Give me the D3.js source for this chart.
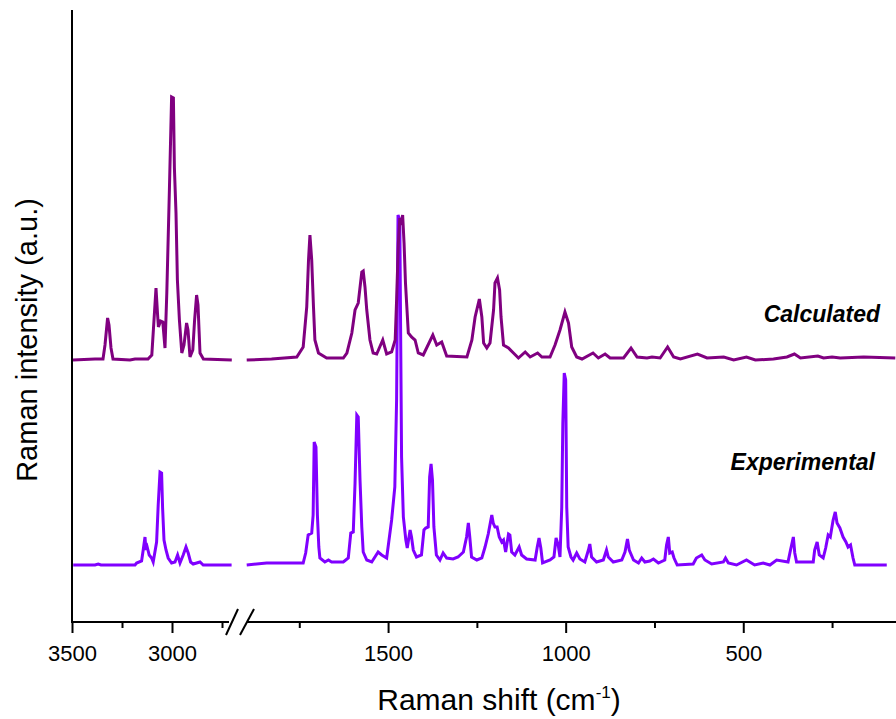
<!DOCTYPE html>
<html>
<head>
<meta charset="utf-8">
<script src="https://cdn.jsdelivr.net/npm/d3@7"></script>
<style>
  body { margin: 0; background: #fff; }
  svg { display: block; font-family: Arial, "Liberation Sans", sans-serif; }
</style>
</head>
<body>
<div id="chart"></div>
<script>
// Raman spectra, [wavenumber (cm-1), intensity (a.u.)]
var calcHigh = [
  [3495,0],[3385,2],[3345,2],[3335,30],[3322,84],[3315,70],[3305,24],[3295,2],[3210,0],[3185,2],
  [3120,2],[3101,10],[3090,80],[3080,144],[3072,90],[3068,66],[3057,78],[3046,76],[3035,24],[3026,134],
  [3013,340],[3002,526],[2993,524],[2988,384],[2980,294],[2973,160],[2963,80],[2951,14],[2940,30],[2927,74],
  [2920,60],[2910,6],[2896,20],[2887,80],[2877,130],[2870,110],[2860,14],[2843,2],[2701,0]
];
var calcLow = [
  [1898,0],[1828,2],[1757,6],[1739,26],[1729,106],[1724,200],[1720,250],[1715,200],[1710,106],[1706,40],
  [1696,14],[1673,4],[1626,4],[1616,14],[1602,54],[1593,100],[1584,114],[1574,176],[1570,178],[1565,146],
  [1560,100],[1551,40],[1542,14],[1532,12],[1515,40],[1504,12],[1490,16],[1480,40],[1476,120],[1471,234],
  [1467,284],[1462,276],[1459,290],[1455,234],[1451,154],[1443,54],[1434,46],[1424,40],[1415,14],[1401,10],
  [1374,50],[1363,30],[1349,36],[1335,8],[1278,6],[1264,40],[1255,86],[1243,122],[1236,86],[1231,34],
  [1222,24],[1213,34],[1203,100],[1199,154],[1192,164],[1186,140],[1182,86],[1175,30],[1161,24],[1147,14],
  [1133,4],[1114,16],[1100,6],[1079,14],[1067,6],[1044,6],[1030,30],[1016,60],[1002,96],[992,74],
  [983,26],[969,6],[954,2],[923,14],[908,4],[889,12],[875,4],[837,4],[816,24],[799,6],
  [771,4],[757,6],[734,4],[713,26],[696,6],[677,2],[629,12],[602,4],[555,6],[527,0],
  [491,6],[466,0],[415,2],[377,6],[356,12],[339,4],[290,8],[274,4],[250,6],[227,4],
  [161,6],[72,4]
];
var expHigh = [
  [3494,0],[3385,0],[3369,2],[3355,0],[3185,0],[3177,4],[3152,8],[3144,30],[3135,56],[3130,30],
  [3124,36],[3114,20],[3102,14],[3094,6],[3077,46],[3069,120],[3060,186],[3052,184],[3047,114],[3040,50],
  [3030,30],[3019,14],[3002,4],[2985,6],[2972,20],[2960,4],[2944,20],[2930,36],[2919,24],[2907,6],
  [2894,2],[2860,6],[2844,0],[2702,0]
];
var expLow = [
  [1898,0],[1842,4],[1739,4],[1732,24],[1725,60],[1715,64],[1711,100],[1708,246],[1703,236],[1699,100],
  [1695,36],[1692,14],[1678,6],[1668,10],[1659,6],[1626,6],[1612,14],[1605,64],[1598,66],[1593,164],
  [1588,300],[1584,296],[1579,170],[1574,76],[1570,26],[1560,10],[1546,6],[1528,26],[1518,20],[1504,14],
  [1490,90],[1481,156],[1476,330],[1472,700],[1467,690],[1462,216],[1457,96],[1450,50],[1446,34],[1438,70],
  [1434,56],[1429,30],[1420,16],[1406,20],[1399,70],[1394,74],[1387,76],[1383,176],[1379,202],[1375,170],
  [1371,76],[1364,20],[1354,10],[1345,24],[1335,14],[1317,12],[1303,16],[1288,26],[1279,56],[1274,84],
  [1270,56],[1265,16],[1250,10],[1236,14],[1227,36],[1218,62],[1208,100],[1204,84],[1199,76],[1193,76],
  [1187,56],[1180,46],[1175,50],[1169,26],[1161,62],[1157,60],[1152,26],[1143,20],[1131,36],[1124,20],
  [1110,12],[1086,10],[1080,36],[1075,54],[1070,34],[1065,4],[1044,10],[1033,16],[1027,54],[1021,40],
  [1016,16],[1011,116],[1008,284],[1004,384],[1000,370],[997,116],[993,36],[985,16],[979,10],[969,24],
  [960,12],[946,6],[936,30],[932,42],[927,16],[913,6],[894,10],[885,30],[880,16],[866,6],
  [842,10],[833,26],[826,52],[821,30],[809,10],[795,4],[786,14],[777,6],[763,8],[753,12],
  [739,4],[721,10],[716,40],[711,56],[707,24],[700,26],[695,14],[686,0],[641,2],[632,14],
  [617,20],[608,10],[589,2],[556,6],[550,14],[542,4],[519,0],[491,10],[468,0],[444,4],
  [425,0],[406,10],[374,6],[367,30],[359,56],[355,24],[350,6],[303,6],[299,30],[292,46],
  [286,20],[275,14],[268,34],[261,60],[255,56],[247,90],[241,106],[236,84],[228,74],[219,56],
  [211,46],[205,36],[198,40],[191,14],[186,0],[96,0]
];

// vertical offsets of the stacked traces
var expOffset = 114;
var calcOffset = 524;

// broken x axis: high-wavenumber and low-wavenumber parts
var majorTicksHigh = [3500, 3000];
var minorTicksHigh = [3250, 2750];
var majorTicksLow = [1500, 1000, 500];
var minorTicksLow = [1750, 1250, 750, 250];

var width = 896, height = 719;
var axisY = 622, axisTop = 10, axisLeft = 72;

var svg = d3.select("#chart").append("svg")
    .attr("width", width)
    .attr("height", height);

var xHigh = d3.scaleLinear().domain([3500, 2700]).range([axisLeft, 232]);
var xLow = d3.scaleLinear().domain([1900, 70]).range([246, 896]);
var y = d3.scaleLinear().domain([0, 1224]).range([axisY, axisTop]);

// traces
function drawTrace(data, xs, offset, color) {
    var line = d3.line()
        .x(function (d) { return xs(d[0]); })
        .y(function (d) { return y(offset + d[1]); });
    svg.append("path")
        .datum(data)
        .attr("d", line)
        .attr("fill", "none")
        .attr("stroke", color)
        .attr("stroke-width", 3)
        .attr("stroke-linejoin", "miter");
}
drawTrace(expHigh, xHigh, expOffset, "#8000ff");
drawTrace(expLow, xLow, expOffset, "#8000ff");
drawTrace(calcHigh, xHigh, calcOffset, "#800080");
drawTrace(calcLow, xLow, calcOffset, "#800080");

// axes
function tickAxis(xs, values, size, labelled) {
    var ax = d3.axisBottom(xs).tickValues(values).tickSize(size).tickPadding(12)
        .tickFormat(labelled ? d3.format("d") : "");
    var g = svg.append("g")
        .attr("transform", "translate(0," + axisY + ")")
        .call(ax);
    g.select(".domain").remove();
    g.selectAll(".tick line").attr("stroke", "#000").attr("stroke-width", 2);
    g.selectAll(".tick text")
        .attr("fill", "#000")
        .style("font-size", "22px")
        .style("font-family", "Arial, 'Liberation Sans', sans-serif");
    return g;
}
tickAxis(xHigh, majorTicksHigh, 11, true);
tickAxis(xHigh, minorTicksHigh, 6, false);
tickAxis(xLow, majorTicksLow, 11, true);
tickAxis(xLow, minorTicksLow, 6, false);

// axis lines with break marks
svg.append("line")
    .attr("x1", axisLeft).attr("x2", axisLeft)
    .attr("y1", axisTop).attr("y2", axisY + 1)
    .attr("stroke", "#000").attr("stroke-width", 2);
svg.append("line")
    .attr("x1", axisLeft).attr("x2", 229)
    .attr("y1", axisY).attr("y2", axisY)
    .attr("stroke", "#000").attr("stroke-width", 2);
svg.append("line")
    .attr("x1", 247).attr("x2", width)
    .attr("y1", axisY).attr("y2", axisY)
    .attr("stroke", "#000").attr("stroke-width", 2);
[[226, 238], [240, 254]].forEach(function (s) {
    svg.append("line")
        .attr("x1", s[0]).attr("y1", axisY + 13)
        .attr("x2", s[1]).attr("y2", axisY - 13)
        .attr("stroke", "#000").attr("stroke-width", 2);
});

// axis titles
var xTitle = svg.append("text")
    .attr("x", 499).attr("y", 710)
    .attr("text-anchor", "middle")
    .style("font-size", "30px")
    .attr("fill", "#000");
xTitle.append("tspan").text("Raman shift (cm");
xTitle.append("tspan").attr("dy", -12).style("font-size", "17px").text("-1");
xTitle.append("tspan").attr("dy", 12).text(")");

svg.append("text")
    .attr("transform", "translate(37,340) rotate(-90)")
    .attr("text-anchor", "middle")
    .style("font-size", "29px")
    .attr("fill", "#000")
    .text("Raman intensity (a.u.)");

// series labels
svg.append("text")
    .attr("x", 880).attr("y", 322)
    .attr("text-anchor", "end")
    .style("font-size", "23px").style("font-weight", "bold").style("font-style", "italic")
    .attr("fill", "#000")
    .text("Calculated");
svg.append("text")
    .attr("x", 875).attr("y", 470)
    .attr("text-anchor", "end")
    .style("font-size", "23px").style("font-weight", "bold").style("font-style", "italic")
    .attr("fill", "#000")
    .text("Experimental");
</script>
</body>
</html>
